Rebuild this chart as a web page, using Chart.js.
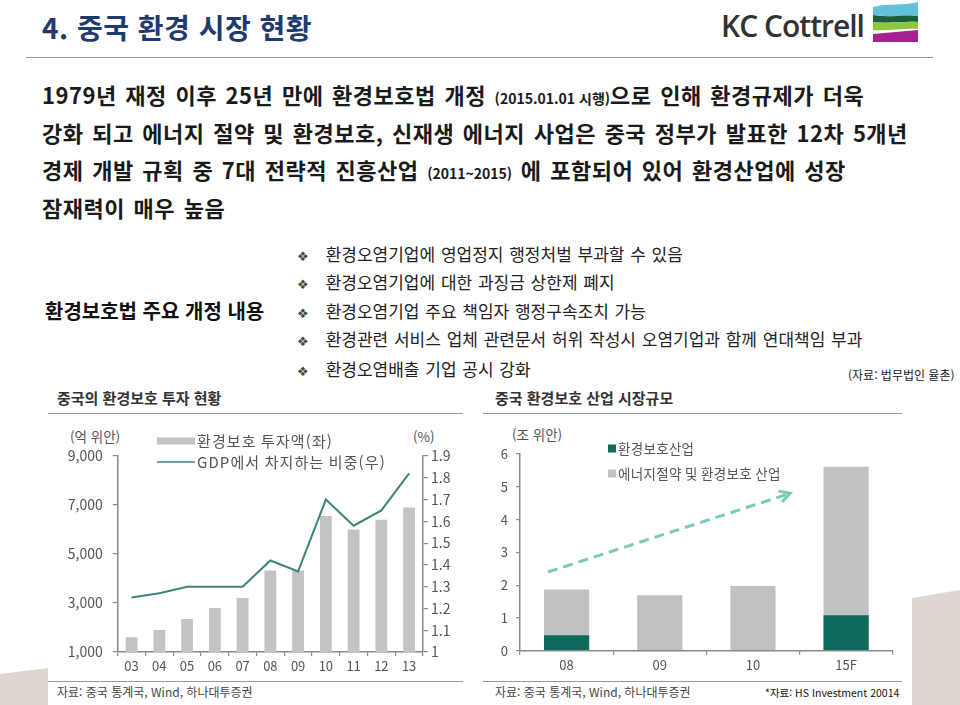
<!DOCTYPE html>
<html lang="ko">
<head>
<meta charset="utf-8">
<title>4. 중국 환경 시장 현황</title>
<script src="https://cdn.jsdelivr.net/npm/chart.js@4.4.1/dist/chart.umd.min.js"></script>
<style>
  body { margin:0; width:960px; height:705px; position:relative; overflow:hidden; background:#fff;
         font-family:'Noto Sans CJK KR','Noto Sans',sans-serif; }
  .t { position:absolute; white-space:nowrap; line-height:1; }
  .body { font-size:22px; font-weight:700; color:#1a1a1a; left:42px; letter-spacing:0.5px; word-spacing:2px; }
  .body small { font-size:14px; font-weight:700; letter-spacing:0; word-spacing:0; }
  .bul { font-size:17px; color:#222; left:297px; word-spacing:1px; }
  .bul b { font-family:'DejaVu Sans'; font-weight:normal; font-size:13px; color:#444; margin-right:17px; }
  .hr { position:absolute; height:0; border-top:1.5px solid #9a9a9a; }
  .ctitle { font-size:15px; font-weight:700; color:#333; }
  .src { font-size:12px; color:#444; }
  .unit { font-size:13.5px; color:#555; }
  canvas { position:absolute; }
  .deco { position:absolute; background:#ddd6d1; }
</style>
</head>
<body>

<!-- header -->
<div class="t" style="left:42px;top:13px;font-size:28px;font-weight:700;color:#1f3a6e;letter-spacing:0.5px;">4. 중국 환경 시장 현황</div>
<div class="t" style="left:721px;top:11px;font-family:'Open Sans';font-size:30px;font-weight:600;color:#333;letter-spacing:-1px;">KC Cottrell</div>
<svg style="position:absolute;left:873px;top:2px" width="46" height="41" viewBox="0 0 46 41">
  <path d="M0,5 C15,1 30,4 45,0 L45,14 C30,12 15,16 0,13 Z" fill="#62c2dc"/>
  <path d="M0,13 C15,16 30,12 45,14 L45,20 C30,19 15,22 0,20 Z" fill="#1b5e3b"/>
  <path d="M0,20 C15,22 30,19 45,20 L45,27 C30,26 15,29 0,28 Z" fill="#8dc63f"/>
  <path d="M0,32 L45,28 L45,40 L0,40 Z" fill="#a6228f"/>
</svg>
<div class="hr" style="left:26px;top:57px;width:907px;"></div>

<!-- body text -->
<div class="t body" style="top:83px;">1979년 재정 이후 25년 만에 환경보호법 개정 <small>(2015.01.01 시행)</small>으로 인해 환경규제가 더욱</div>
<div class="t body" style="top:121px;">강화 되고 에너지 절약 및 환경보호, 신재생 에너지 사업은 중국 정부가 발표한 12차 5개년</div>
<div class="t body" style="top:158px;">경제 개발 규획 중 7대 전략적 진흥산업 <small>(2011~2015)</small> 에 포함되어 있어 환경산업에 성장</div>
<div class="t body" style="top:196px;">잠재력이 매우 높음</div>

<div class="t" style="left:45px;top:301px;font-size:20px;font-weight:700;color:#111;">환경보호법 주요 개정 내용</div>
<div class="t bul" style="top:245px;"><b>❖</b>환경오염기업에 영업정지 행정처벌 부과할 수 있음</div>
<div class="t bul" style="top:273px;"><b>❖</b>환경오염기업에 대한 과징금 상한제 폐지</div>
<div class="t bul" style="top:302px;"><b>❖</b>환경오염기업 주요 책임자 행정구속조치 가능</div>
<div class="t bul" style="top:330px;"><b>❖</b>환경관련 서비스 업체 관련문서 허위 작성시 오염기업과 함께 연대책임 부과</div>
<div class="t bul" style="top:360px;"><b>❖</b>환경오염배출 기업 공시 강화</div>
<div class="t" style="left:848px;top:369px;font-size:12px;color:#222;">(자료: 법무법인 율촌)</div>

<!-- decorative corners -->
<div class="deco" style="left:0;top:666px;width:48px;height:39px;clip-path:polygon(0 8px,100% 2px,100% 100%,0 100%);"></div>
<div class="deco" style="left:912px;top:588px;width:48px;height:117px;clip-path:polygon(0 10px,100% 2px,100% 100%,0 100%);"></div>

<!-- left chart frame -->
<div class="t ctitle" style="left:57px;top:390px;">중국의 환경보호 투자 현황</div>
<div class="hr" style="left:48px;top:413px;width:415px;"></div>
<div class="t unit" style="left:70px;top:430px;">(억 위안)</div>
<div class="t unit" style="left:413px;top:430px;">(%)</div>
<canvas id="investChart" style="left:45px;top:420px;" width="420" height="260"></canvas>
<div class="hr" style="left:48px;top:681px;width:415px;"></div>
<div class="t src" style="left:57px;top:686px;">자료: 중국 통계국, Wind, 하나대투증권</div>

<!-- right chart frame -->
<div class="t ctitle" style="left:495px;top:390px;">중국 환경보호 산업 시장규모</div>
<div class="hr" style="left:483px;top:413px;width:419px;"></div>
<div class="t unit" style="left:512px;top:428px;">(조 위안)</div>
<canvas id="marketChart" style="left:480px;top:420px;" width="420" height="260"></canvas>
<div class="hr" style="left:483px;top:681px;width:419px;"></div>
<div class="t src" style="left:495px;top:686px;">자료: 중국 통계국, Wind, 하나대투증권</div>
<div class="t" style="left:765px;top:688px;font-size:10.5px;color:#111;">*자료: HS Investment 20014</div>

<script>
// investment chart (left)
const investYears = ['03', '04', '05', '06', '07', '08', '09', '10', '11', '12', '13'];
const investAmount = [1600, 1900, 2350, 2800, 3200, 4330, 4330, 6550, 6000, 6400, 6900];
const gdpShare = [1.25, 1.27, 1.30, 1.30, 1.30, 1.42, 1.37, 1.70, 1.58, 1.65, 1.82];
const investTicks = [1000, 3000, 5000, 7000, 9000];
const shareTicks = [1, 1.1, 1.2, 1.3, 1.4, 1.5, 1.6, 1.7, 1.8, 1.9];

// market size chart (right)
const marketYears = ['08', '09', '10', '15F'];
const envIndustry = [0.47, null, null, 1.08];
const energyEnvIndustry = [1.87, 1.69, 1.97, 5.61];
const marketTicks = [0, 1, 2, 3, 4, 5, 6];
// dashed growth arrow: [category index, value] start -> end
const trendArrow = [[-0.2, 2.4], [2.4, 4.8]];

const FONT = "'Noto Sans CJK KR', sans-serif";
const AXIS = '#8a8a8a';
const LABEL = '#555';

/** fix a scale's ticks to a given list */
function useTicks(list) {
  return scale => { scale.ticks = list.map(v => ({ value: v })); };
}

/** draws the little legend inside the chart image */
const boxLegend = {
  id: 'boxLegend',
  afterDraw(chart, args, opts) {
    const ctx = chart.ctx;
    ctx.save();
    ctx.font = opts.size + 'px ' + FONT;
    ctx.letterSpacing = (opts.spacing || 0) + 'px';
    ctx.textBaseline = 'middle';
    opts.items.forEach(it => {
      const ds = chart.data.datasets[it.dataset];
      if (it.kind === 'line') {
        ctx.strokeStyle = ds.borderColor;
        ctx.lineWidth = 1.5;
        ctx.beginPath();
        ctx.moveTo(it.x, it.y);
        ctx.lineTo(it.x + it.w, it.y);
        ctx.stroke();
      } else {
        ctx.fillStyle = ds.backgroundColor;
        ctx.fillRect(it.x, it.y - it.h / 2, it.w, it.h);
      }
      ctx.fillStyle = LABEL;
      ctx.fillText(ds.label, it.x + it.w + 2, it.y);
    });
    ctx.restore();
  }
};

/** dashed arrow over the market chart */
const arrowPlugin = {
  id: 'arrowPlugin',
  afterDatasetsDraw(chart) {
    const x = chart.scales.x, y = chart.scales.y;
    const x0 = x.getPixelForValue(trendArrow[0][0]), y0 = y.getPixelForValue(trendArrow[0][1]);
    const x1 = x.getPixelForValue(trendArrow[1][0]), y1 = y.getPixelForValue(trendArrow[1][1]);
    const ang = Math.atan2(y1 - y0, x1 - x0);
    const ctx = chart.ctx;
    ctx.save();
    ctx.strokeStyle = '#7ccabd';
    ctx.lineWidth = 3;
    ctx.setLineDash([10, 6]);
    ctx.beginPath();
    ctx.moveTo(x0, y0);
    ctx.lineTo(x1, y1);
    ctx.stroke();
    ctx.setLineDash([]);
    ctx.beginPath();
    ctx.moveTo(x1 - 12 * Math.cos(ang - 0.5), y1 - 12 * Math.sin(ang - 0.5));
    ctx.lineTo(x1, y1);
    ctx.lineTo(x1 - 12 * Math.cos(ang + 0.5), y1 - 12 * Math.sin(ang + 0.5));
    ctx.stroke();
    ctx.restore();
  }
};

function axisGrid(len) {
  return { display: true, drawOnChartArea: false, drawTicks: true, tickLength: len, color: AXIS, lineWidth: 1.2 };
}

new Chart(document.getElementById('investChart'), {
  data: {
    labels: investYears,
    datasets: [
      { type: 'bar', label: '환경보호 투자액(좌)', data: investAmount, yAxisID: 'y',
        backgroundColor: '#c3c3c3', barPercentage: 0.85, categoryPercentage: 0.5, order: 1 },
      { type: 'line', label: 'GDP에서 차지하는 비중(우)', data: gdpShare, yAxisID: 'y1',
        borderColor: '#3f847a', borderWidth: 2, pointRadius: 0, tension: 0, order: 0 }
    ]
  },
  options: {
    responsive: false, animation: false,
    layout: { padding: { top: 36, left: 0, right: 0, bottom: 0 } },
    plugins: {
      legend: { display: false }, tooltip: { enabled: false },
      boxLegend: { size: 15, spacing: 1.1, items: [
        { dataset: 0, kind: 'bar', x: 112, y: 21, w: 38, h: 7 },
        { dataset: 1, kind: 'line', x: 112, y: 42, w: 38 }
      ] }
    },
    scales: {
      x: {
        grid: axisGrid(4), border: { color: AXIS, width: 1.5 },
        ticks: { color: LABEL, font: { family: FONT, size: 13 }, padding: 2 },
        afterFit: s => { s.height = 28; }
      },
      y: {
        position: 'left', min: 1000, max: 9000,
        grid: axisGrid(5), border: { color: AXIS, width: 1.5 },
        afterBuildTicks: useTicks(investTicks),
        ticks: { color: LABEL, font: { family: FONT, size: 14 }, padding: 10,
                 callback: v => v.toLocaleString('en-US') },
        afterFit: s => { s.width = 72.7; }
      },
      y1: {
        position: 'right', min: 1, max: 1.9,
        grid: axisGrid(5), border: { color: AXIS, width: 1.5 },
        afterBuildTicks: useTicks(shareTicks),
        ticks: { color: LABEL, font: { family: FONT, size: 14 }, padding: 3,
                 callback: v => (v === 1 ? '1' : v.toFixed(1)) },
        afterFit: s => { s.width = 42; }
      }
    }
  },
  plugins: [boxLegend]
});

new Chart(document.getElementById('marketChart'), {
  type: 'bar',
  data: {
    labels: marketYears,
    datasets: [
      { label: '환경보호산업', data: envIndustry, backgroundColor: '#0e6b5c' },
      { label: '에너지절약 및 환경보호 산업', data: energyEnvIndustry, backgroundColor: '#c1c1c1' }
    ]
  },
  options: {
    responsive: false, animation: false,
    layout: { padding: { top: 34, left: 0, right: 7.3, bottom: 0 } },
    datasets: { bar: { barPercentage: 0.97, categoryPercentage: 0.5 } },
    plugins: {
      legend: { display: false }, tooltip: { enabled: false },
      boxLegend: { size: 13.5, spacing: 0.3, items: [
        { dataset: 0, kind: 'box', x: 128, y: 28.5, w: 8, h: 8 },
        { dataset: 1, kind: 'box', x: 128, y: 53.5, w: 8, h: 8 }
      ] }
    },
    scales: {
      x: {
        stacked: true,
        grid: axisGrid(4), border: { color: AXIS, width: 1.5 },
        ticks: { color: LABEL, font: { family: FONT, size: 13 }, padding: 3 },
        afterFit: s => { s.height = 29.3; }
      },
      y: {
        min: 0, max: 6,
        grid: axisGrid(4), border: { color: AXIS, width: 1.5 },
        afterBuildTicks: useTicks(marketTicks),
        ticks: { color: LABEL, font: { family: FONT, size: 13 }, padding: 8 },
        afterFit: s => { s.width = 40; }
      }
    }
  },
  plugins: [boxLegend, arrowPlugin]
});
</script>
</body>
</html>
